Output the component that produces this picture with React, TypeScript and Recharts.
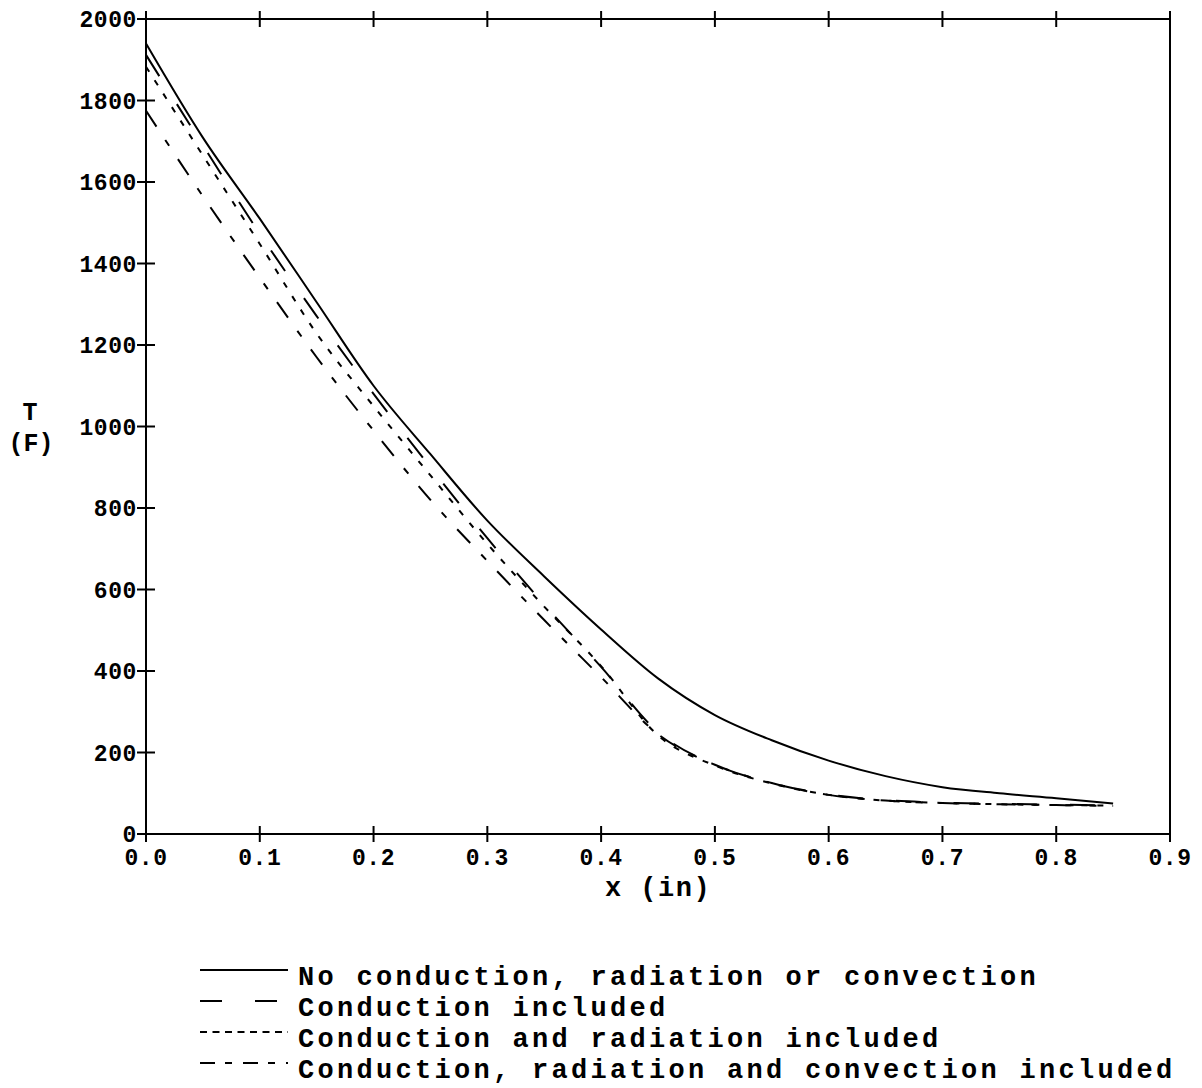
import React from 'react';
import { LineChart, Line, XAxis, YAxis } from 'recharts';

// depth into the part (in)
const xValues = [0, 0.05, 0.1, 0.15, 0.2, 0.25, 0.3, 0.35, 0.4, 0.45, 0.5, 0.55, 0.6, 0.65, 0.7, 0.75, 0.8, 0.85];

// temperature (F) for each case
const noConduction = [1940, 1709, 1510, 1305, 1100, 932, 769, 632, 502, 382, 292, 230, 180, 142, 115, 100, 88, 75];
const conductionOnly = [1912, 1690, 1473, 1271, 1080, 900, 726, 563, 410, 250, 170, 125, 97, 83, 77, 74, 72, 70];
const conductionRadiation = [1883, 1665, 1448, 1228, 1050, 880, 712, 558, 412, 242, 168, 124, 96, 82, 76, 73, 71, 70];
const allModes = [1775, 1565, 1365, 1170, 990, 820, 670, 525, 385, 245, 170, 125, 96, 82, 76, 73, 71, 69];

const xTicks = [0, 0.1, 0.2, 0.3, 0.4, 0.5, 0.6, 0.7, 0.8, 0.9];
const yTicks = [0, 200, 400, 600, 800, 1000, 1200, 1400, 1600, 1800, 2000];

const legendItems = [
  { label: 'No conduction, radiation or convection', dash: undefined },
  { label: 'Conduction included', dash: '22 33' },
  { label: 'Conduction and radiation included', dash: '7 5.5' },
  { label: 'Conduction, radiation and convection included', dash: '15 10 7 11' },
];

const data = xValues.map((x, i) => ({
  x,
  a: noConduction[i],
  b: conductionOnly[i],
  c: conductionRadiation[i],
  d: allModes[i],
}));

const FONT = "'Liberation Mono', 'DejaVu Sans Mono', monospace";

const BottomTick = ({ x, y, payload }: any) => (
  <g>
    <line x1={x} x2={x} y1={y - 8} y2={y + 8} stroke="#000" strokeWidth={2} />
    <text x={x} y={y + 31} textAnchor="middle" fontFamily={FONT} fontWeight="bold" fontSize={23} letterSpacing={0.6} fill="#000">
      {Number(payload.value).toFixed(1)}
    </text>
  </g>
);

const TopTick = ({ x, y }: any) => (
  <line x1={x} x2={x} y1={y - 8} y2={y + 8} stroke="#000" strokeWidth={2} />
);

const LeftTick = ({ x, y, payload }: any) => (
  <g>
    <line x1={x - 9} x2={x + 9} y1={y} y2={y} stroke="#000" strokeWidth={2} />
    <text x={x - 9} y={y} dy="0.36em" textAnchor="end" fontFamily={FONT} fontWeight="bold" fontSize={23} letterSpacing={0.6} fill="#000">
      {payload.value}
    </text>
  </g>
);

const RightTick = ({ x, y }: any) => (
  <line x1={x - 9} x2={x + 9} y1={y} y2={y} stroke="#000" strokeWidth={2} />
);

const axisLine = { stroke: '#000', strokeWidth: 2 };

export default function App() {
  return (
    <div style={{ position: 'absolute', left: 0, top: 0, width: 1202, height: 1088, background: '#fff' }}>
      <LineChart width={1202} height={910} data={data} margin={{ top: 0, right: 0, bottom: 0, left: 0 }}>
        <XAxis
          xAxisId="bottom"
          dataKey="x"
          type="number"
          domain={[0, 0.9]}
          ticks={xTicks}
          interval={0}
          height={76}
          tickSize={0}
          tickMargin={0}
          tickLine={false}
          axisLine={axisLine}
          tick={<BottomTick />}
          label={{
            value: 'x (in)',
            position: 'insideBottom',
            offset: 14,
            fontFamily: FONT,
            fontWeight: 'bold',
            fontSize: 27,
            letterSpacing: 1.5,
            fill: '#000',
          }}
        />
        <XAxis
          xAxisId="top"
          orientation="top"
          dataKey="x"
          type="number"
          domain={[0, 0.9]}
          ticks={xTicks}
          interval={0}
          height={19}
          tickSize={0}
          tickMargin={0}
          tickLine={false}
          axisLine={axisLine}
          tick={<TopTick />}
        />
        <YAxis
          yAxisId="left"
          type="number"
          domain={[0, 2000]}
          ticks={yTicks}
          interval={0}
          width={146}
          tickSize={0}
          tickMargin={0}
          tickLine={false}
          axisLine={axisLine}
          tick={<LeftTick />}
        />
        <YAxis
          yAxisId="right"
          orientation="right"
          type="number"
          domain={[0, 2000]}
          ticks={yTicks}
          interval={0}
          width={32}
          tickSize={0}
          tickMargin={0}
          tickLine={false}
          axisLine={axisLine}
          tick={<RightTick />}
        />
        <Line xAxisId="bottom" yAxisId="left" dataKey="a" type="monotone" stroke="#000" strokeWidth={2} dot={false} isAnimationActive={false} />
        <Line xAxisId="bottom" yAxisId="left" dataKey="b" type="monotone" stroke="#000" strokeWidth={2} strokeDasharray="25 33" dot={false} isAnimationActive={false} />
        <Line xAxisId="bottom" yAxisId="left" dataKey="c" type="monotone" stroke="#000" strokeWidth={2} strokeDasharray="6 10" dot={false} isAnimationActive={false} />
        <Line xAxisId="bottom" yAxisId="left" dataKey="d" type="monotone" stroke="#000" strokeWidth={2} strokeDasharray="19 16 7 16" dot={false} isAnimationActive={false} />
      </LineChart>

      {/* y axis title */}
      <svg style={{ position: 'absolute', left: 0, top: 380 }} width={70} height={100}>
        <text x={30} y={40} textAnchor="middle" fontFamily={FONT} fontWeight="bold" fontSize={25} fill="#000">T</text>
        <text x={31} y={71} textAnchor="middle" fontFamily={FONT} fontWeight="bold" fontSize={25} fill="#000">(F)</text>
      </svg>

      {/* legend */}
      <svg style={{ position: 'absolute', left: 0, top: 950 }} width={1202} height={138}>
        {legendItems.map((item, i) => (
          <g key={item.label}>
            <line x1={200} x2={288} y1={20 + i * 31} y2={20 + i * 31} stroke="#000" strokeWidth={2} strokeDasharray={item.dash} />
            <text x={298} y={35 + i * 31} fontFamily={FONT} fontWeight="bold" fontSize={27} letterSpacing={3.3} fill="#000">
              {item.label}
            </text>
          </g>
        ))}
      </svg>
    </div>
  );
}
